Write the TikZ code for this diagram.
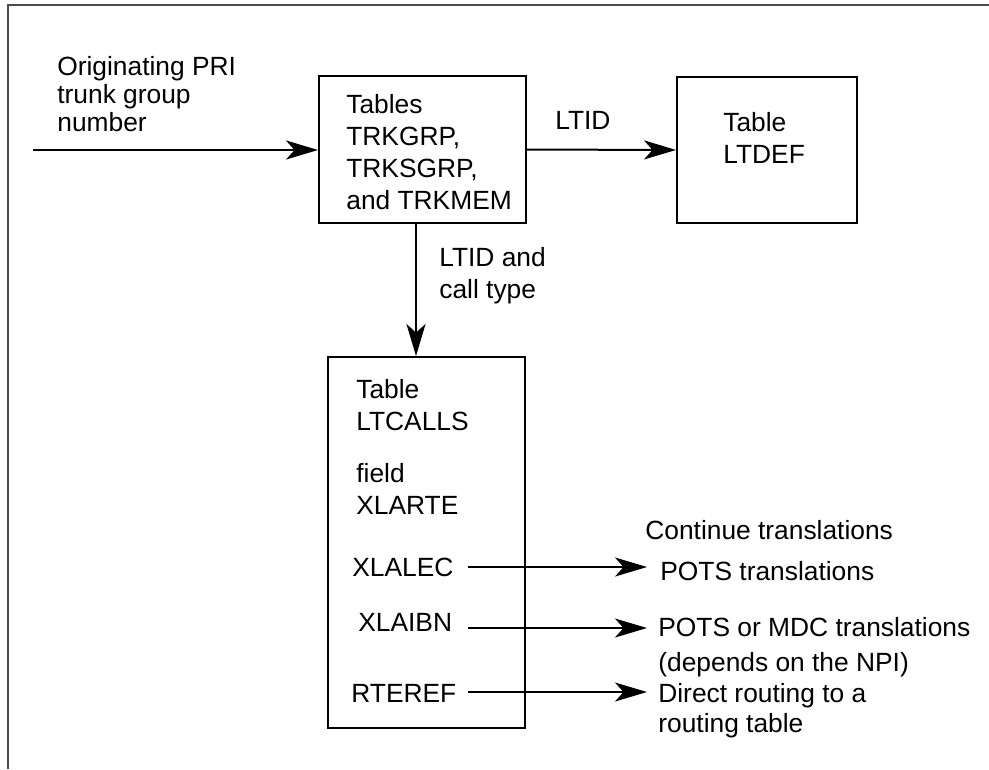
\documentclass[tikz,border=0pt]{standalone}
\usepackage{fontspec}
\setmainfont{Liberation Sans}
\usepackage{tikz}
\usetikzlibrary{arrows.meta}

\begin{document}
\begin{tikzpicture}[
    x=0.02cm, y=-0.02cm,
    every node/.style={font=\fontsize{15pt}{18.2pt}\selectfont, inner sep=0pt},
    tblbox/.style={draw, line width=0.04cm},
    txt/.style={anchor=base west, align=left},
    flow/.style={-{Stealth[length=0.64cm, width=0.38cm, inset=0.17cm]}, line width=0.04cm},
    framel/.style={draw=black!70, line width=0.03cm}
]
\useasboundingbox (0,0) rectangle (989,769);

% Frame (top and left edges only)
\draw[framel] (8,769) -- (8,5) -- (989,5);

% --- Table boxes
\node[tblbox, minimum width=4.14cm, minimum height=2.94cm] (trk) at (422.5,149.5) {};
\node[tblbox, minimum width=3.6cm, minimum height=2.92cm] (ltdef) at (767,150) {};
\node[tblbox, minimum width=3.94cm, minimum height=7.42cm] (ltcalls) at (426.5,542.5) {};

% --- Box texts (anchored on the last baseline)
\node[txt] (trktxt) at (346,209) {Tables\\TRKGRP,\\TRKSGRP,\\and TRKMEM};
\node[txt] (ltdeftxt) at (723,163) {Table\\LTDEF};
\node[txt] (ltcallstxt) at (356,430) {Table\\LTCALLS};
\node[txt] (fieldtxt) at (356,514) {field\\XLARTE};
\node[txt] (xlalec) at (352,576) {XLALEC};
\node[txt] (xlaibn) at (358,631) {XLAIBN};
\node[txt] (rteref) at (351,702) {RTEREF};

% --- Labels
\node[txt, font=\fontsize{15pt}{15.9pt}\selectfont] (orig) at (57,131) {Originating PRI\\trunk group\\number};
\node[txt] (ltid) at (555,129) {LTID};
\node[txt] (ltidcall) at (439,298) {LTID and\\call type};
\node[txt] (cont) at (645,539) {Continue translations};
\node[txt] (pots) at (660,580) {POTS translations};
\node[txt, font=\fontsize{15pt}{19.4pt}\selectfont] (potsmdc) at (658,671) {POTS or MDC translations\\(depends on the NPI)};
\node[txt, font=\fontsize{15pt}{17pt}\selectfont] (direct) at (658,732) {Direct routing to a\\routing table};

% --- Free ends
\coordinate (src) at (33,150);
\coordinate (downx) at (416,0);
\coordinate (alec) at (468,567);
\coordinate (aibn) at (468,628);
\coordinate (rref) at (468,692);
\coordinate (tipx) at (647,0);

% --- Connectors
\draw[flow] (src) -- (src -| trk.west);
\draw[flow] (trk.east) -- (ltdef.west);
\draw[flow] (downx |- trk.south) -- (downx |- ltcalls.north);
\draw[flow] (alec) -- (alec -| tipx);
\draw[flow] (aibn) -- (aibn -| tipx);
\draw[flow] (rref) -- (rref -| tipx);
\end{tikzpicture}
\end{document}
